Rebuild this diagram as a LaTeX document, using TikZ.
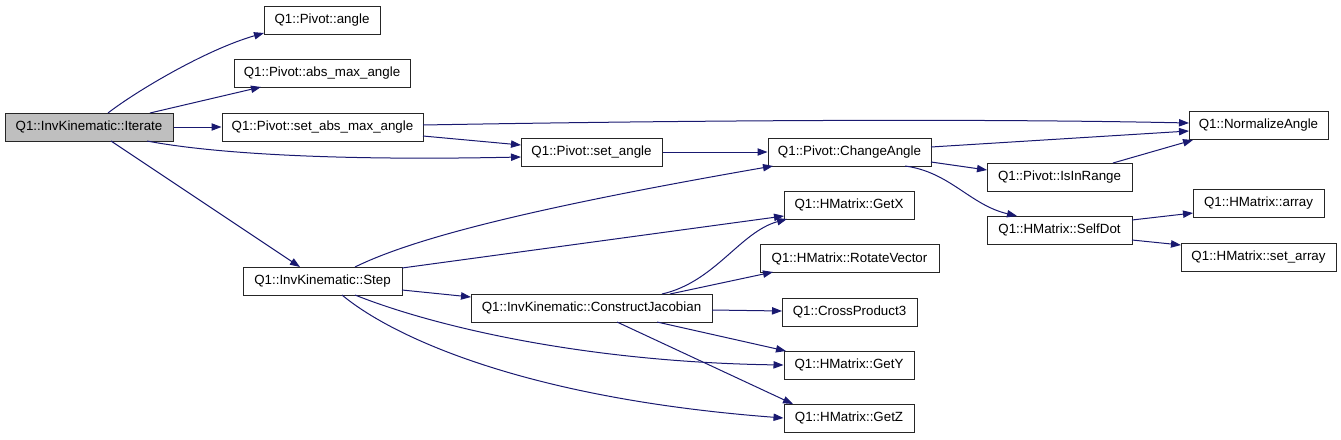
\documentclass[tikz,border=0pt]{standalone}
\usepackage{fontspec}
\setmainfont{Liberation Sans}
\usetikzlibrary{arrows.meta}
\definecolor{edgeblue}{RGB}{25,25,112}
\definecolor{boxgray}{RGB}{191,191,191}
\begin{document}
\begin{tikzpicture}[x=0.75pt,y=-0.75pt,
  fn/.style={draw=black!85,line width=0.75pt,rectangle,inner sep=0pt,minimum height=28*0.75pt,font=\fontsize{10pt}{12pt}\selectfont},
  call/.style={draw=edgeblue,line width=0.75pt,-{Triangle[length=7.5pt,width=5.5pt]},fill=none}]
\useasboundingbox (0,0) rectangle (1341,439);
% nodes
\node[fn,fill=boxgray,minimum width=168*0.75pt] (it) at (89,127) {Q1::InvKinematic::Iterate};
\node[fn,minimum width=116*0.75pt] (angle) at (322,20) {Q1::Pivot::angle};
\node[fn,minimum width=176*0.75pt] (absmax) at (322,73.5) {Q1::Pivot::abs\_max\_angle};
\node[fn,minimum width=201*0.75pt] (setabs) at (322.5,127) {Q1::Pivot::set\_abs\_max\_angle};
\node[fn,minimum width=159*0.75pt] (step) at (322.5,281) {Q1::InvKinematic::Step};
\node[fn,minimum width=141*0.75pt] (setang) at (591.5,152) {Q1::Pivot::set\_angle};
\node[fn,minimum width=163*0.75pt] (chg) at (849.5,152) {Q1::Pivot::ChangeAngle};
\node[fn,minimum width=130*0.75pt] (getx) at (849,205) {Q1::HMatrix::GetX};
\node[fn,minimum width=179*0.75pt] (rot) at (849.5,258.5) {Q1::HMatrix::RotateVector};
\node[fn,minimum width=241*0.75pt] (cj) at (591.5,308) {Q1::InvKinematic::ConstructJacobian};
\node[fn,minimum width=135*0.75pt] (cross) at (849.5,312) {Q1::CrossProduct3};
\node[fn,minimum width=130*0.75pt] (gety) at (849,365) {Q1::HMatrix::GetY};
\node[fn,minimum width=130*0.75pt] (getz) at (849,418) {Q1::HMatrix::GetZ};
\node[fn,minimum width=139*0.75pt] (norm) at (1258.5,125) {Q1::NormalizeAngle};
\node[fn,minimum width=145*0.75pt] (isin) at (1059.5,177) {Q1::Pivot::IsInRange};
\node[fn,minimum width=145*0.75pt] (selfdot) at (1059.5,230) {Q1::HMatrix::SelfDot};
\node[fn,minimum width=131*0.75pt] (arr) at (1258.5,203.5) {Q1::HMatrix::array};
\node[fn,minimum width=155*0.75pt] (setarr) at (1258.5,257) {Q1::HMatrix::set\_array};
% edges
\draw[call] ([shift={(19,-14)}]it.center) .. controls (135,92) and (205,50) .. ([shift={(-58,13)}]angle.center);
\draw[call] ([shift={(61,-14)}]it.center) -- ([shift={(-61,13.5)}]absmax.center);
\draw[call] (it.east) -- (setabs.west);
\draw[call] ([shift={(58,14)}]it.center) .. controls (210,153) and (330,161) .. ([shift={(-70.5,5)}]setang.center);
\draw[call] ([shift={(22,14)}]it.center) -- ([shift={(-22.5,-14)}]step.center);
\draw[call] ([shift={(100.5,-2)}]setabs.center) .. controls (650,121) and (950,118) .. ([shift={(-69.5,-2)}]norm.center);
\draw[call] ([shift={(100.5,9)}]setabs.center) -- ([shift={(-70.5,-7)}]setang.center);
\draw[call] (setang.east) -- (chg.west);
\draw[call] ([shift={(32.5,-14)}]step.center) .. controls (410,240) and (520,210) .. ([shift={(-76.5,14)}]chg.center);
\draw[call] ([shift={(79.5,-13)}]step.center) -- ([shift={(-65,11)}]getx.center);
\draw[call] ([shift={(79.5,9)}]step.center) -- ([shift={(-120.5,-11)}]cj.center);
\draw[call] ([shift={(32.5,14)}]step.center) .. controls (430,325) and (580,362) .. (gety.west);
\draw[call] ([shift={(19.5,14)}]step.center) .. controls (390,335) and (520,398) .. (getz.west);
\draw[call] ([shift={(81.5,-5)}]chg.center) -- ([shift={(-69.5,6)}]norm.center);
\draw[call] ([shift={(81.5,10)}]chg.center) -- ([shift={(-72.5,-7)}]isin.center);
\draw[call] ([shift={(55.5,14)}]chg.center) .. controls (950,172) and (970,205) .. ([shift={(-42.5,-14)}]selfdot.center);
\draw[call] ([shift={(53.5,-14)}]isin.center) -- ([shift={(-65.5,15)}]norm.center);
\draw[call] ([shift={(72.5,-10)}]selfdot.center) -- ([shift={(-65.5,9.5)}]arr.center);
\draw[call] ([shift={(72.5,10)}]selfdot.center) -- ([shift={(-77.5,-12)}]setarr.center);
\draw[call] ([shift={(70.5,-14)}]cj.center) .. controls (715,282) and (740,232) .. ([shift={(-62,14)}]getx.center);
\draw[call] ([shift={(78.5,-14)}]cj.center) -- ([shift={(-76.5,13.5)}]rot.center);
\draw[call] ([shift={(120.5,2)}]cj.center) -- ([shift={(-67.5,-1)}]cross.center);
\draw[call] ([shift={(65.5,14)}]cj.center) -- ([shift={(-63,-14)}]gety.center);
\draw[call] ([shift={(25.5,14)}]cj.center) -- ([shift={(-56,-14)}]getz.center);
\end{tikzpicture}
\end{document}
